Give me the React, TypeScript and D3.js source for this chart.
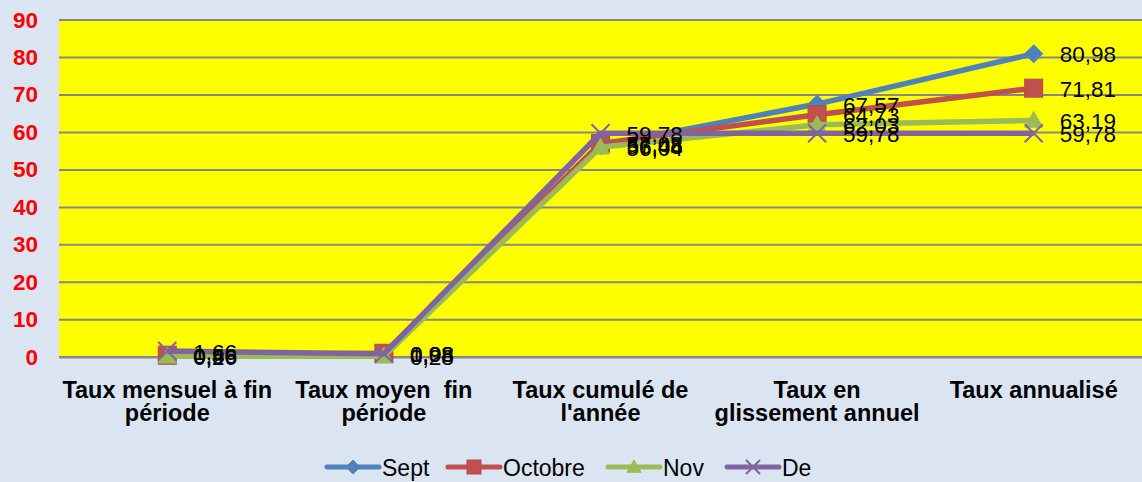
import * as d3 from 'd3';

const categories = [
  ['Taux mensuel à fin', 'période'],
  ['Taux moyen  fin', 'période'],
  ['Taux cumulé de', "l'année"],
  ['Taux en', 'glissement annuel'],
  ['Taux annualisé'],
];
const seriesNames = ['Sept', 'Octobre', 'Nov', 'De'];
const sept = [0.46, 0.98, 56.48, 67.57, 80.98];
const octobre = [0.56, 1.08, 57.08, 64.73, 71.81];
const nov = [0.26, 0.28, 56.04, 62.03, 63.19];
const de = [1.66, 0.93, 59.78, 59.78, 59.78];
const yTicks = [0, 10, 20, 30, 40, 50, 60, 70, 80, 90];

const W = 1142;
const H = 482;
const plot = { left: 59, top: 20, right: 1142, bottom: 357.3 };
const colors = ['#4F81BD', '#C0504D', '#9BBB59', '#8064A2'];
const markers = ['diamond', 'square', 'triangle', 'x'];
const legendX = [327, 448, 608, 727];
const font = '"Liberation Sans", Arial, sans-serif';

function Marker({ kind, color, x, y, s }: { kind: string; color: string; x: number; y: number; s: number }) {
  const h = s / 2;
  if (kind === 'diamond') {
    return <path d={`M${x},${y - h}L${x + h},${y}L${x},${y + h}L${x - h},${y}Z`} fill={color} stroke={color} />;
  }
  if (kind === 'square') {
    return <rect x={x - h} y={y - h} width={s} height={s} fill={color} stroke={d3.color(color)!.darker(0.2).toString()} />;
  }
  if (kind === 'triangle') {
    return <path d={`M${x},${y - h}L${x + h},${y + h * 0.75}L${x - h},${y + h * 0.75}Z`} fill={color} stroke={color} />;
  }
  return (
    <path d={`M${x - h},${y - h}L${x + h},${y + h}M${x - h},${y + h}L${x + h},${y - h}`} stroke={color} strokeWidth={2} fill="none" />
  );
}

export default function App() {
  const data = [sept, octobre, nov, de];
  const x = d3.scaleBand<number>().domain(d3.range(categories.length)).range([plot.left, plot.right]);
  const cx = (i: number) => x(i)! + x.bandwidth() / 2;
  const y = d3.scaleLinear().domain([0, 90]).range([plot.bottom, plot.top]);
  const line = d3
    .line<number>()
    .x((_, i) => cx(i))
    .y(d => y(d));
  const fmt = (v: number) => v.toFixed(2).replace('.', ',');

  return (
    <svg width={W} height={H} style={{ position: 'fixed', left: 0, top: 0, fontFamily: font }}>
      <rect width={W} height={H} fill="#DBE5F1" />
      <rect x={plot.left} y={plot.top} width={plot.right - plot.left} height={plot.bottom - plot.top} fill="#FFFF00" />
      {yTicks.map(t => (
        <g key={t}>
          <line x1={plot.left} x2={plot.right} y1={y(t)} y2={y(t)} stroke="#878787" strokeWidth={t === 0 ? 2.5 : 2} />
          <text x={38} y={y(t)} textAnchor="end" dominantBaseline="central" fill="#FF0000" fontWeight="bold" fontSize={22.5}>
            {t}
          </text>
        </g>
      ))}
      {categories.map((lines, i) => (
        <text key={i} x={cx(i)} y={398} textAnchor="middle" fontWeight="bold" fontSize={23.5} fill="#000">
          {lines.map((l, j) => (
            <tspan key={j} x={cx(i)} dy={j === 0 ? 0 : 23} style={{ whiteSpace: 'pre' }}>
              {l}
            </tspan>
          ))}
        </text>
      ))}
      {data.map((s, k) => (
        <g key={k}>
          <path d={line(s)!} fill="none" stroke={colors[k]} strokeWidth={5.5} strokeLinejoin="round" />
          {s.map((v, i) => (
            <Marker key={i} kind={markers[k]} color={colors[k]} x={cx(i)} y={y(v)} s={18} />
          ))}
        </g>
      ))}
      {data.map((s, k) => (
        <g key={'l' + k}>
          {s.map((v, i) => (
            <text key={i} x={cx(i) + 26} y={y(v) + 1} dominantBaseline="central" fontSize={22.5} fill="#000">
              {fmt(v)}
            </text>
          ))}
        </g>
      ))}
      {seriesNames.map((n, k) => (
        <g key={n}>
          <line x1={legendX[k]} x2={legendX[k] + 52} y1={467} y2={467} stroke={colors[k]} strokeWidth={5} strokeLinecap="round" />
          <Marker kind={markers[k]} color={colors[k]} x={legendX[k] + 26} y={467} s={14} />
          <text x={legendX[k] + 55} y={468} dominantBaseline="central" fontSize={23} fill="#000">
            {n}
          </text>
        </g>
      ))}
    </svg>
  );
}
